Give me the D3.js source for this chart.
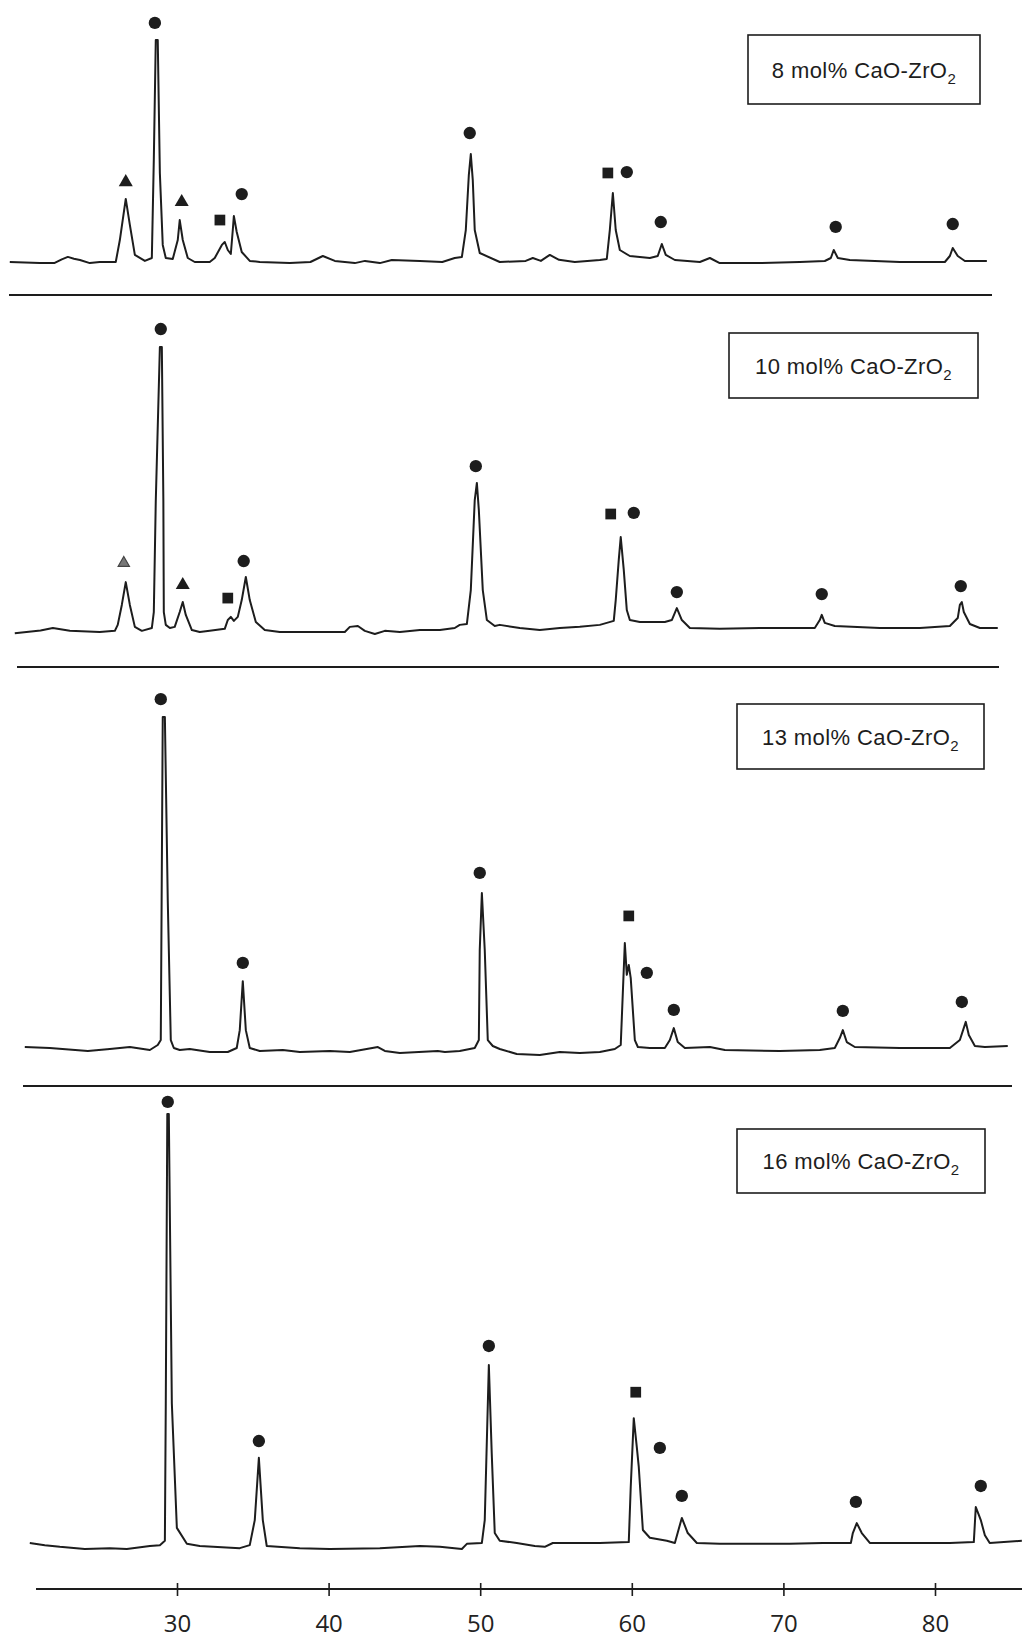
<!DOCTYPE html>
<html>
<head>
<meta charset="utf-8">
<script src="https://cdn.jsdelivr.net/npm/d3@7"></script>
<style>
  html, body { margin: 0; padding: 0; background: #fff; }
  svg { display: block; }
</style>
</head>
<body>
<div id="chart"></div>
<script>
// ---------------- DATA ----------------
// Diffraction angle (2θ, degrees) tick labels of the common x axis
const axisTicks = [30, 40, 50, 60, 70, 80];

// Sample names (subscript "2" appended when drawn)
const sampleLabels = ["8 mol% CaO-ZrO", "10 mol% CaO-ZrO", "13 mol% CaO-ZrO", "16 mol% CaO-ZrO"];

// XRD patterns: [2θ, relative intensity (%)]
const pattern8 = [
  [18.97,0],[20.95,-0.5],[21.9,-0.5],[22.4,1.2],[22.8,2.3],[23.2,1.5],[23.6,0.9],[24.25,-0.5],[24.9,0],[25.96,0],
  [26.23,9.9],[26.62,28.4],[26.89,16.7],[27.22,3.2],[27.88,0.5],[28.34,1.8],[28.47,46],[28.6,100],[28.73,100],[28.87,40],
  [29.06,7.7],[29.26,1.8],[29.72,1.35],[30.05,9.9],[30.18,18.9],[30.38,9.9],[30.71,1.8],[31.17,0],[32.16,0],[32.49,1.8],
  [32.96,7.7],[33.15,9.0],[33.35,5.4],[33.55,3.6],[33.68,14.4],[33.75,20.7],[33.94,13.5],[34.27,4.5],[34.8,0.5],[35.46,0],
  [37.44,-0.5],[38.8,0],[39.62,2.7],[40.41,0.5],[41.73,-0.5],[42.4,0.5],[43.38,-0.5],[44.17,0.9],[46.02,0.5],[47.5,0],
  [48.32,1.8],[48.79,2.25],[49.05,14.4],[49.25,39.2],[49.38,48.6],[49.51,36.9],[49.64,14.4],[49.97,4.05],[51.29,0],[53.0,0.5],
  [53.47,1.8],[54.0,0.5],[54.59,3.2],[55.2,1.0],[56.24,0],[57.89,0.9],[58.35,1.35],[58.55,14.4],[58.75,31.1],[58.94,14.4],
  [59.21,5.4],[59.87,2.7],[61.19,1.8],[61.71,2.7],[61.98,8.1],[62.24,3.2],[62.84,0.9],[64.49,0],[65.15,1.8],[65.8,-0.5],
  [68.44,-0.5],[71.08,0],[72.73,0.45],[73.13,1.8],[73.32,5.4],[73.59,1.8],[74.38,0.9],[77.68,0],[80.65,0],[80.98,2.7],
  [81.17,6.3],[81.5,2.7],[81.97,0.45],[83.42,0.45]
];
const pattern10 = [
  [19.3,-0.4],[21.0,0.5],[21.81,1.4],[22.93,0.4],[24.9,0],[25.9,0.4],[26.09,2.5],[26.36,9.5],[26.62,17.5],[26.89,9.5],
  [27.22,1.8],[27.68,0.4],[28.34,1.4],[28.47,7.0],[28.6,46],[28.87,100],[29.0,100],[29.1,46],[29.13,7.0],[29.26,2.5],
  [29.53,1.4],[29.85,1.8],[30.18,7.0],[30.38,10.5],[30.58,6.0],[30.98,0.7],[31.5,0],[32.16,0.4],[33.15,1.1],[33.35,4.2],
  [33.55,5.3],[33.75,3.9],[34.01,5.3],[34.27,11.2],[34.54,19.3],[34.8,11.2],[35.2,3.5],[35.79,0.7],[36.78,0],[39.42,0],
  [41.07,0],[41.4,1.8],[41.93,2.1],[42.39,0.4],[43.05,-0.7],[43.71,0.4],[44.7,0],[46.02,0.7],[47.34,0.7],[48.32,1.4],
  [48.65,2.5],[49.12,2.8],[49.38,14.7],[49.64,46.3],[49.78,52.3],[49.91,42.8],[50.17,14.7],[50.44,4.2],[50.96,2.1],[51.29,2.5],
  [52.61,1.4],[53.93,0.7],[55.25,1.4],[56.57,1.8],[57.89,2.5],[58.81,3.9],[58.94,11.2],[59.14,25.3],[59.27,33.3],[59.47,21.8],
  [59.67,7.7],[59.87,4.2],[60.53,3.5],[62.18,3.5],[62.64,4.2],[62.97,8.4],[63.3,4.2],[63.83,1.4],[65.8,1.1],[68.44,1.4],
  [71.08,1.4],[72.07,1.4],[72.4,4.2],[72.53,6.0],[72.73,3.2],[73.39,2.1],[76.36,1.4],[79.0,1.4],[80.98,2.1],[81.5,4.9],
  [81.64,9.5],[81.77,10.5],[81.9,7.0],[82.3,2.8],[82.96,1.4],[84.14,1.4]
];
const pattern13 = [
  [19.96,0.3],[21.61,0],[24.12,-0.9],[25.57,-0.3],[26.89,0.3],[28.21,-0.6],[28.73,0.9],[28.93,2.4],[29.06,100],[29.2,100],
  [29.39,44.7],[29.59,2.4],[29.79,0],[30.18,-0.6],[30.84,-0.3],[32.16,-1.2],[33.35,-1.2],[33.94,0],[34.14,5.4],[34.34,20.2],
  [34.54,5.4],[34.8,0],[35.46,-0.9],[36.98,-0.6],[38.1,-1.2],[40.08,-0.9],[41.4,-1.2],[43.25,0.3],[43.71,-0.9],[44.7,-1.5],
  [47.2,-0.9],[47.67,-1.2],[48.65,-0.9],[49.64,0],[49.91,2.4],[49.97,29.6],[50.11,46.8],[50.3,29.6],[50.5,2.4],[50.83,0.6],
  [51.29,-0.3],[52.41,-1.8],[53.93,-2.1],[55.25,-1.2],[56.57,-1.5],[57.89,-1.2],[58.88,-0.3],[59.27,0.9],[59.54,31.7],[59.67,22.1],
  [59.8,25.1],[59.93,21.1],[60.2,2.4],[60.4,0.3],[61.19,0],[62.18,0],[62.51,2.4],[62.77,6.0],[63.03,1.8],[63.5,0],
  [65.15,0.3],[66.14,-0.6],[69.76,-0.9],[72.4,-0.6],[73.39,0],[73.72,3.0],[73.92,5.4],[74.18,1.8],[74.71,0.3],[77.68,0],
  [80.98,0],[81.64,2.4],[82.03,7.9],[82.23,3.9],[82.63,0.6],[83.29,0.3],[84.8,0.6]
];
const pattern16 = [
  [20.29,0.7],[21.28,0.2],[22.27,-0.2],[23.92,-0.7],[25.57,-0.5],[26.69,-0.7],[28.21,0],[28.87,0.2],[29.2,1.2],[29.26,33],
  [29.36,100],[29.46,100],[29.66,33],[29.99,4.2],[30.65,0.5],[31.5,0],[34.14,-0.5],[34.8,0.2],[35.13,6.0],[35.4,20.4],
  [35.66,6.0],[35.92,0],[38.1,-0.5],[40.08,-0.7],[43.38,-0.5],[46.02,0],[47.34,-0.2],[48.79,-0.7],[49.12,0.5],[50.11,0.7],
  [50.3,6.0],[50.57,41.9],[50.76,21.5],[50.96,3.0],[51.29,1.2],[52.41,0.7],[53.6,0],[54.26,-0.2],[54.79,0.7],[56.24,0.7],
  [57.89,0.7],[59.8,0.9],[59.93,13.7],[60.13,29.6],[60.33,22.9],[60.46,18.3],[60.73,3.7],[61.19,1.9],[62.31,1.2],[62.84,0.7],
  [63.3,6.5],[63.69,3.0],[64.29,0.7],[65.8,0.5],[70.42,0.5],[72.6,0.7],[74.45,0.7],[74.58,3.0],[74.84,5.3],[75.17,3.0],[75.7,0.7],
  [80.98,0.7],[82.56,0.9],[82.69,9.0],[82.89,7.2],[83.02,6.0],[83.29,2.5],[83.61,0.7],[85.73,1.2]
];

// Phase markers: [phase, 2θ, intensity at marker]
// "c" = circle, "t" = triangle, "to" = faint triangle, "s" = square
const markers8 = [
  ["t",26.62,36.0],["c",28.54,107.7],["t",30.31,27.0],["s",32.83,18.9],["c",34.27,30.6],["c",49.31,58.1],
  ["s",58.42,40.1],["c",59.67,40.5],["c",61.91,18.0],["c",73.45,15.8],["c",81.17,17.1]
];
const markers10 = [
  ["to",26.49,24.2],["c",28.93,106.3],["t",30.38,16.5],["s",33.35,11.9],["c",34.40,24.9],["c",49.71,58.2],
  ["s",58.61,41.4],["c",60.13,41.8],["c",62.97,14.0],["c",72.53,13.3],["c",81.70,16.1]
];
const markers13 = [
  ["c",28.93,105.4],["c",34.34,25.7],["c",49.97,52.9],["s",59.80,39.9],["c",60.99,22.7],["c",62.77,11.5],
  ["c",73.92,11.2],["c",81.77,13.9]
];
const markers16 = [
  ["c",29.39,102.8],["c",35.40,24.3],["c",50.57,46.3],["s",60.26,35.6],["c",61.85,22.7],["c",63.30,11.6],
  ["c",74.78,10.2],["c",83.02,13.9]
];

const patterns = [pattern8, pattern10, pattern13, pattern16];
const markerSets = [markers8, markers10, markers13, markers16];

// ---------------- LAYOUT ----------------
const W = 1022, H = 1638;
const INK = "#1d1d1d";
const panels = [
  { base: 262,  top: 40,   box: [748, 35, 980, 104],   sep: [9, 992, 295] },
  { base: 632,  top: 347,  box: [729, 333, 978, 398],  sep: [17, 999, 667] },
  { base: 1048, top: 717,  box: [737, 704, 984, 769],  sep: [23, 1012, 1086] },
  { base: 1546, top: 1114, box: [737, 1129, 985, 1193], sep: null }
];
const axisY = 1589;

const svg = d3.select("#chart").append("svg")
  .attr("width", W).attr("height", H)
  .style("background", "#fff");

const x = d3.scaleLinear().domain([30, 80]).range([177, 935]);

const symbolGen = d3.symbol();
const symSpec = {
  c:  { type: d3.symbolCircle,   size: 120, fill: INK, stroke: "none" },
  s:  { type: d3.symbolSquare,   size: 115, fill: INK, stroke: "none" },
  t:  { type: d3.symbolTriangle, size: 85,  fill: INK, stroke: "none" },
  to: { type: d3.symbolTriangle, size: 55,  fill: "#777", stroke: "#444" }
};

panels.forEach((p, i) => {
  const y = d3.scaleLinear().domain([0, 100]).range([p.base, p.top]);
  const g = svg.append("g");

  const line = d3.line().x(d => x(d[0])).y(d => y(d[1])).curve(d3.curveLinear);
  g.append("path")
    .datum(patterns[i])
    .attr("d", line)
    .attr("fill", "none")
    .attr("stroke", INK)
    .attr("stroke-width", 2)
    .attr("stroke-linejoin", "round");

  g.selectAll("path.mk")
    .data(markerSets[i])
    .join("path")
    .attr("class", "mk")
    .attr("transform", d => `translate(${x(d[1])},${y(d[2])})`)
    .attr("d", d => symbolGen.type(symSpec[d[0]].type).size(symSpec[d[0]].size)())
    .attr("fill", d => symSpec[d[0]].fill)
    .attr("stroke", d => symSpec[d[0]].stroke)
    .attr("stroke-width", 1.2);

  // label box
  const [bx0, by0, bx1, by1] = p.box;
  g.append("rect")
    .attr("x", bx0).attr("y", by0)
    .attr("width", bx1 - bx0).attr("height", by1 - by0)
    .attr("fill", "none").attr("stroke", INK).attr("stroke-width", 1.6);
  const t = g.append("text")
    .attr("x", (bx0 + bx1) / 2)
    .attr("y", (by0 + by1) / 2 + 8)
    .attr("text-anchor", "middle")
    .attr("font-family", "'Liberation Sans', Arial, sans-serif")
    .attr("font-size", 22)
    .attr("letter-spacing", "0.4px")
    .attr("fill", INK);
  t.append("tspan").text(sampleLabels[i]);
  t.append("tspan").attr("font-size", 15).attr("dy", 6).text("2");

  if (p.sep) {
    g.append("line")
      .attr("x1", p.sep[0]).attr("x2", p.sep[1])
      .attr("y1", p.sep[2]).attr("y2", p.sep[2])
      .attr("stroke", INK).attr("stroke-width", 2);
  }
});

// bottom 2θ axis
const axisG = svg.append("g").attr("transform", `translate(0,${axisY})`);
axisG.append("line")
  .attr("x1", x(20.7)).attr("x2", W)
  .attr("y1", 0).attr("y2", 0)
  .attr("stroke", INK).attr("stroke-width", 2);
const axis = d3.axisBottom(x).tickValues(axisTicks).tickSizeInner(5).tickSizeOuter(0).tickPadding(0);
const ax = axisG.append("g").call(axis);
ax.select(".domain").remove();
ax.selectAll(".tick line")
  .attr("y1", -6).attr("y2", 7)
  .attr("stroke", INK).attr("stroke-width", 1.6);
ax.selectAll(".tick text")
  .attr("y", 43).attr("dy", 0)
  .attr("font-family", "'Open Sans', 'DejaVu Sans', sans-serif")
  .attr("font-weight", 400)
  .attr("font-size", 24)
  .attr("fill", "#222");
</script>
</body>
</html>
